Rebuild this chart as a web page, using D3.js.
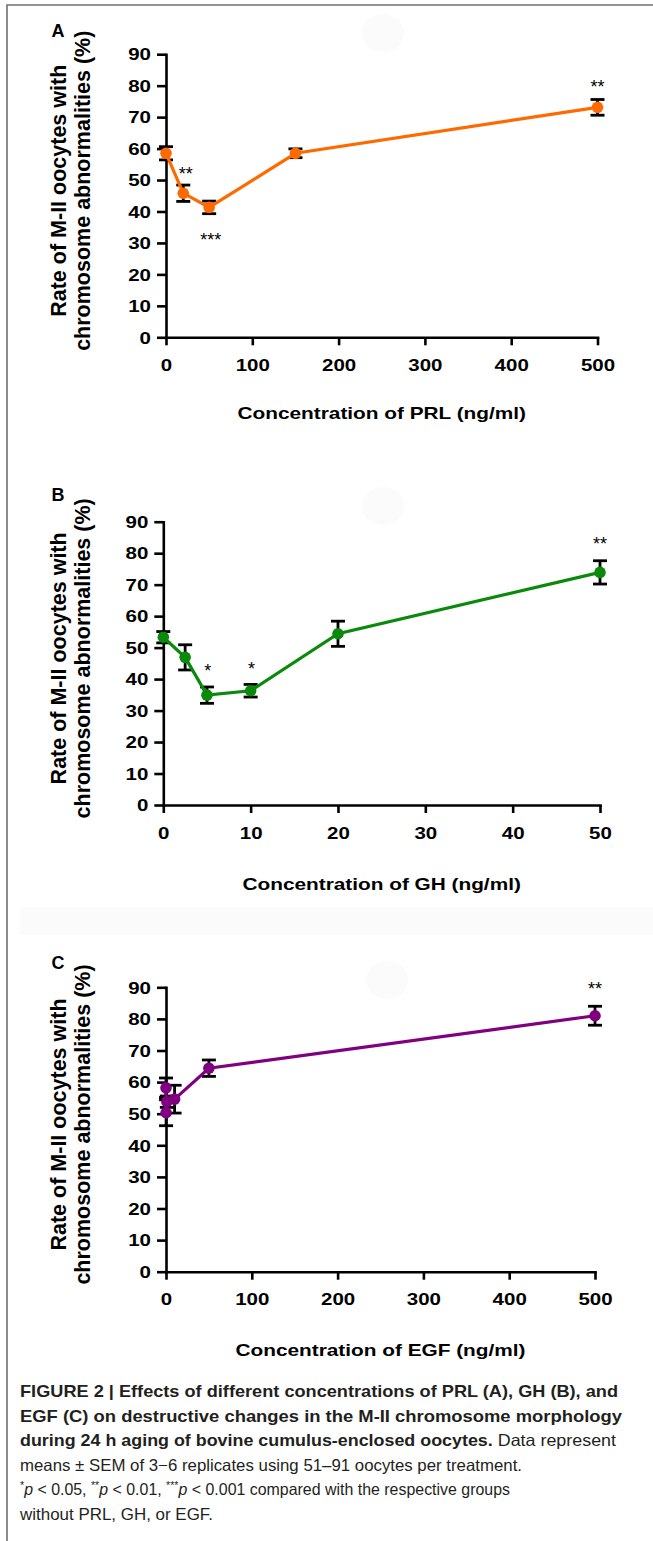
<!DOCTYPE html>
<html>
<head>
<meta charset="utf-8">
<script src="https://cdn.jsdelivr.net/npm/d3@7"></script>
<style>
body{margin:0;background:#fff;}
svg text{font-family:"Liberation Sans",Arial,Helvetica,sans-serif;}
</style>
</head>
<body>
<svg id="fig" width="653" height="1541"></svg>
<script>
// ---- data ----
var rateTicks = [0, 10, 20, 30, 40, 50, 60, 70, 80, 90];

// A: PRL
var prlConc = [0, 20, 50, 150, 500];
var prlRate = [58.5, 45.8, 41.3, 58.5, 73.1];
var prlSem  = [2.1, 2.6, 2.0, 1.4, 2.5];
var prlTicks = [0, 100, 200, 300, 400, 500];
var prlStars = [{x: 23, y: 53.2, label: "**"}, {x: 52, y: 32.3, label: "***"}, {x: 500, y: 80.8, label: "**"}];

// B: GH
var ghConc = [0, 2.5, 5, 10, 20, 50];
var ghRate = [53.3, 46.9, 34.9, 36.3, 54.4, 73.9];
var ghSem  = [1.8, 4.0, 2.6, 2.0, 4.0, 3.7];
var ghTicks = [0, 10, 20, 30, 40, 50];
var ghStars = [{x: 5.1, y: 43.9, label: "*"}, {x: 10.1, y: 44.5, label: "*"}, {x: 50, y: 84.2, label: "**"}];

// C: EGF
var egfConc = [0, 0.1, 1, 10, 50, 500];
var egfRate = [58.2, 50.3, 53.8, 54.6, 64.4, 81.0];
var egfSem  = [3.1, 4.1, 1.8, 4.4, 2.6, 3.0];
var egfTicks = [0, 100, 200, 300, 400, 500];
var egfStars = [{x: 500, y: 90.7, label: "**"}];

var yTitle = ["Rate of M-II oocytes with", "chromosome abnormalities (%)"];

var svg = d3.select("#fig");

// faint background artefacts of the scan
svg.append("rect").attr("x", 20).attr("y", 907).attr("width", 633).attr("height", 28).attr("fill", "#fbfbfb");
[[383, 33], [383, 506], [387, 980]].forEach(function(c){
	svg.append("ellipse").attr("cx", c[0]).attr("cy", c[1]).attr("rx", 21).attr("ry", 19).attr("fill", "#fbfbfb");
});

// frame
svg.append("path").attr("d", "M7,1541V5H653").attr("fill", "none").attr("stroke", "#6f6f6f").attr("stroke-width", 1.6);

var panels = [
	{letter: "A", conc: prlConc, rate: prlRate, sem: prlSem, ticks: prlTicks, stars: prlStars, xMax: 500,
	 color: "#ff6a00", title: "Concentration of PRL (ng/ml)", left: 166, right: 597.5, bottom: 337.3, top: 54.2, letterY: 37, titleDy: 82},
	{letter: "B", conc: ghConc, rate: ghRate, sem: ghSem, ticks: ghTicks, stars: ghStars, xMax: 50,
	 color: "#0a8a0a", title: "Concentration of GH (ng/ml)", left: 163.3, right: 600, bottom: 805, top: 521.7, letterY: 501, titleDy: 85},
	{letter: "C", conc: egfConc, rate: egfRate, sem: egfSem, ticks: egfTicks, stars: egfStars, xMax: 500,
	 color: "#800080", title: "Concentration of EGF (ng/ml)", left: 166, right: 595, bottom: 1271.7, top: 987.3, letterY: 969, titleDy: 84}
];

function drawPanel(p){
	var x = d3.scaleLinear().domain([0, p.xMax]).range([p.left, p.right]);
	var y = d3.scaleLinear().domain([0, 90]).range([p.bottom, p.top]);
	var g = svg.append("g");

	var yAxis = g.append("g")
		.attr("transform", "translate(" + p.left + ",0)")
		.call(d3.axisLeft(y).tickValues(rateTicks).tickSize(9).tickSizeOuter(0));
	var xAxis = g.append("g")
		.attr("transform", "translate(0," + p.bottom + ")")
		.call(d3.axisBottom(x).tickValues(p.ticks).tickSize(8).tickSizeOuter(0));

	[yAxis, xAxis].forEach(function(a){
		a.select(".domain").attr("stroke", "#000").attr("stroke-width", 2.6).attr("stroke-linecap", "square");
		a.selectAll(".tick line").attr("stroke", "#000").attr("stroke-width", 2.6);
		a.selectAll(".tick text")
			.attr("fill", "#000")
			.style("font-size", "20.5px")
			.style("font-weight", "bold")
			.attr("dy", null);
	});
	// the figure's lettering is squat: squeeze it vertically
	yAxis.selectAll(".tick text").attr("x", -15).attr("y", 7.2).attr("transform", "scale(1,0.8)");
	xAxis.selectAll(".tick text").attr("y", 42).attr("transform", "scale(1,0.8)");

	var pts = p.conc.map(function(c, i){ return {x: c, y: p.rate[i], e: p.sem[i]}; });

	// error bars
	var eb = g.append("g").attr("stroke", "#000").attr("stroke-width", 2.8);
	pts.forEach(function(d){
		var xx = x(d.x), y1 = y(d.y + d.e), y2 = y(d.y - d.e);
		eb.append("line").attr("x1", xx).attr("x2", xx).attr("y1", y1).attr("y2", y2);
		eb.append("line").attr("x1", xx - 7).attr("x2", xx + 7).attr("y1", y1).attr("y2", y1);
		eb.append("line").attr("x1", xx - 7).attr("x2", xx + 7).attr("y1", y2).attr("y2", y2);
	});

	g.append("path")
		.datum(pts)
		.attr("fill", "none")
		.attr("stroke", p.color)
		.attr("stroke-width", 3.2)
		.attr("d", d3.line().x(function(d){ return x(d.x); }).y(function(d){ return y(d.y); }));

	g.selectAll("circle.pt").data(pts).enter().append("circle")
		.attr("class", "pt")
		.attr("cx", function(d){ return x(d.x); })
		.attr("cy", function(d){ return y(d.y); })
		.attr("r", 5.8)
		.attr("fill", p.color);

	g.selectAll("text.star").data(p.stars).enter().append("text")
		.attr("class", "star")
		.attr("x", function(d){ return x(d.x); })
		.attr("y", function(d){ return y(d.y) + 10; })
		.attr("text-anchor", "middle")
		.style("font-size", "18px")
		.text(function(d){ return d.label; });

	// axis title
	g.append("g")
		.attr("transform", "translate(" + ((p.left + p.right) / 2) + "," + (p.bottom + p.titleDy) + ") scale(1,0.8)")
		.append("text")
		.attr("text-anchor", "middle")
		.style("font-size", "20.8px")
		.style("font-weight", "bold")
		.text(p.title);

	// y title, two lines
	var cy = (p.bottom + p.top) / 2 - 5;
	yTitle.forEach(function(t, i){
		g.append("text")
			.attr("transform", "translate(" + (65.5 + i * 24) + "," + cy + ") rotate(-90)")
			.attr("text-anchor", "middle")
			.style("font-size", "21.5px")
			.style("font-weight", "bold")
			.text(t);
	});

	g.append("text")
		.attr("x", 51.5)
		.attr("y", p.letterY)
		.style("font-size", "18px")
		.style("font-weight", "bold")
		.text(p.letter);
}

panels.forEach(drawPanel);

// ---- caption ----
var cap = svg.append("g").style("font-size", "16.5px").attr("fill", "#231f20");
function capLine(yPos, width, parts){
	var t = cap.append("text")
		.attr("x", 20).attr("y", yPos)
		.attr("textLength", width).attr("lengthAdjust", "spacingAndGlyphs");
	parts.forEach(function(pt){
		var s = t.append("tspan").text(pt.t);
		if(pt.b) s.style("font-weight", "bold");
		if(pt.i) s.style("font-style", "italic");
		if(pt.sup) s.attr("baseline-shift", "super").style("font-size", "11px");
	});
}
capLine(1397, 598, [{t: "FIGURE 2 | Effects of different concentrations of PRL (A), GH (B), and", b: true}]);
capLine(1421.5, 602, [{t: "EGF (C) on destructive changes in the M-II chromosome morphology", b: true}]);
capLine(1446, 596, [{t: "during 24 h aging of bovine cumulus-enclosed oocytes.", b: true}, {t: " Data represent"}]);
capLine(1470.5, 502, [{t: "means \u00b1 SEM of 3\u22126 replicates using 51\u201391 oocytes per treatment."}]);
capLine(1495, 490, [{t: "*", sup: true}, {t: "p", i: true}, {t: " < 0.05, "}, {t: "**", sup: true}, {t: "p", i: true},
	{t: " < 0.01, "}, {t: "***", sup: true}, {t: "p", i: true}, {t: " < 0.001 compared with the respective groups"}]);
capLine(1519.5, 193, [{t: "without PRL, GH, or EGF."}]);
</script>
</body>
</html>
